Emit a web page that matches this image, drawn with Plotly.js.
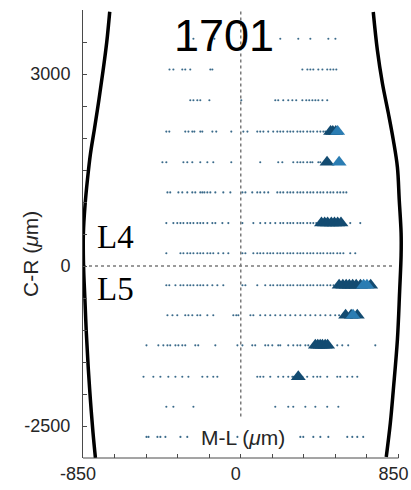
<!DOCTYPE html>
<html>
<head>
<meta charset="utf-8">
<script src="https://cdn.plot.ly/plotly-3.0.1.min.js"></script>
<style>html,body{margin:0;padding:0;background:#fff;}#chart{width:411px;height:490px;}</style>
</head>
<body>
<div id="chart"></div>
<script>
// Row positions (C-R, um)
const rowY = [3550, 3070, 2590, 2100, 1620, 1150, 670, 200, -300, -770, -1240, -1730, -2200, -2670];

// Dot M-L positions per row (um)
const row1X = [-255, -142, 213, 310, 375, 472, 510];
const row2X = [-384, -363, -315, -299, -272, -164, -153, 332, 359, 375, 391, 418, 440, 466, 483, 499, 515];
const row3X = [-272, -255, -234, -218, -169, 3, 186, 202, 229, 256, 278, 299, 332, 353, 369, 386, 402, 418, 440, 466];
const row4X = [-401, -385, -299, -282, -261, -250, -218, -207, -153, -132, -51, 14, 36, 89, 105, 122, 148, 175, 197, 213, 229, 251, 267, 283, 305, 321, 337, 358, 375, 391, 412, 429, 445, 456];
const row5X = [-422, -401, -309, -288, -261, -218, -180, -148, -51, 105, 202, 224, 283, 305, 321, 337, 358, 375, 386, 418, 429];
const row6X = [-395, -380, -336, -315, -288, -261, -245, -218, -207, -196, -180, -164, -137, -94, -56, 9, 25, 62, 89, 105, 127, 148, 197, 213, 229, 251, 267, 283, 305, 321, 337, 358, 375, 391, 412, 429, 445, 466, 483, 499, 520, 536, 553, 569];
const row7X = [-401, -363, -342, -325, -309, -288, -272, -255, -234, -218, -202, -180, -153, -137, -99, -67, 9, 68, 105, 132, 159, 186, 213, 229, 251, 267, 283, 305, 321, 337, 358, 375, 391, 407, 590, 644];
const row8X = [-401, -325, -309, -288, -272, -255, -234, -218, -202, -180, -164, -148, -121, -94, -67, 9, 25, 68, 89, 105, 122, 143, 159, 175, 197, 213, 229, 251, 267, 283, 305, 321, 337, 358, 375, 391, 412, 429, 445, 466, 483, 499, 520, 536, 553, 590, 617];
const row9X = [-401, -385, -352, -325, -309, -288, -272, -255, -234, -218, -202, -180, -153, -126, -94, 9, 25, 89, 132, 159, 175, 197, 213, 229, 251, 267, 283, 305, 321, 337, 358, 375, 391, 412, 429, 445, 466, 483, 500, 515];
const row10X = [-395, -368, -342, -299, -282, -261, -234, -218, -180, -148, -40, -24, -13, 52, 68, 105, 132, 159, 186, 213, 240, 267, 294, 321, 348, 375, 402, 429, 456, 483, 509, 530];
const row11X = [-508, -444, -417, -395, -380, -352, -336, -315, -299, -245, -229, -137, -18, 9, 62, 78, 132, 148, 170, 202, 213, 256, 283, 305, 321, 348, 364, 520, 547, 579, 725];
const row12X = [-524, -471, -433, -390, -352, -315, -282, -207, -180, -148, -126, 89, 105, 122, 159, 202, 229, 256, 278, 283, 294, 332, 358, 391, 412, 429, 466, 520, 536, 574, 601, 628];
const row13X = [-401, -363, -255, 186, 256, 283, 348, 402, 466, 526];
const row14X = [-508, -497, -449, -433, -406, -325, -288, -18, 321, 337, 391, 429, 472, 574, 601, 628, 660];
const dotRows = [row1X, row2X, row3X, row4X, row5X, row6X, row7X, row8X, row9X, row10X, row11X, row12X, row13X, row14X];

// Triangles (dark) per row index, and light ones
const triDarkRow = [3, 3, 3, 4, 6, 6, 6, 6, 6, 6, 6, 8, 8, 8, 8, 8, 8, 8, 8, 9, 9, 9, 10, 10, 10, 10, 10, 10, 11];
const triDarkX = [484, 496, 512, 465, 435, 452, 468, 488, 505, 522, 540, 530, 550, 568, 585, 603, 622, 645, 700, 565, 595, 628, 402, 415, 428, 440, 455, 468, 310];
const triLightRow = [3, 4, 8, 8, 9];
const triLightX = [522, 530, 662, 680, 605];

// Boundary curves (M-L, C-R in um)
const leftX = [-706, -722, -742, -764, -788, -810, -826, -839, -848, -847, -840, -832, -822, -810, -796, -783];
const leftY = [3973, 3500, 3050, 2600, 2150, 1750, 1350, 950, 500, 0, -500, -1050, -1580, -2094, -2609, -3000];
const rightX = [714, 736, 763, 795, 822, 844, 854, 864, 864, 856, 844, 822, 806, 784];
const rightY = [3969, 3375, 2859, 2391, 1969, 1547, 1031, 516, 172, -400, -1156, -1938, -2453, -2984];

const xTickVals = [-850, -680, -510, -340, -170, 0, 170, 340, 510, 680, 850];
const xTickText = ['-850', '', '', '', '', '0', '', '', '', '', '850'];
const yTickVals = [-3000, -2500, -2000, -1500, -1000, -500, 0, 500, 1000, 1500, 2000, 2500, 3000, 3500, 4000];
const yTickText = ['', '-2500', '', '', '', '', '0', '', '', '', '', '', '3000', '', ''];

const dotX = [], dotY = [];
dotRows.forEach((r, i) => r.forEach(v => { dotX.push(v); dotY.push(rowY[i]); }));

const traces = [
  {x: leftX, y: leftY, mode: 'lines', line: {color: '#000', width: 3.5, shape: 'spline', smoothing: 1}, hoverinfo: 'skip'},
  {x: rightX, y: rightY, mode: 'lines', line: {color: '#000', width: 3.5, shape: 'spline', smoothing: 1}, hoverinfo: 'skip'},
  {x: dotX, y: dotY, mode: 'markers', marker: {size: 2.1, color: '#3a6a8a'}, cliponaxis: false},
  {x: triDarkX, y: triDarkRow.map(i => rowY[i]), mode: 'markers',
   marker: {symbol: 'triangle-up', size: 13, color: '#134b71', line: {width: 0}}},
  {x: triLightX, y: triLightRow.map(i => rowY[i]), mode: 'markers',
   marker: {symbol: 'triangle-up', size: 13, color: '#2b7db3', line: {width: 0}}}
];

const axisColor = '#4a4a4a';
const layout = {
  width: 411, height: 490,
  margin: {l: 83, r: 6, t: 10, b: 32},
  showlegend: false,
  paper_bgcolor: '#fff', plot_bgcolor: '#fff',
  font: {family: 'Liberation Sans, Arial, sans-serif', color: '#262626'},
  xaxis: {range: [-850, 885], showgrid: false, zeroline: false, showline: false,
    tickmode: 'array', tickvals: xTickVals, ticktext: xTickText,
    ticks: 'inside', ticklen: 4, tickcolor: axisColor, tickwidth: 1,
    ticklabelshift: -5, ticklabeloverflow: 'allow', ticklabelstandoff: 3,
    tickfont: {size: 18, color: '#262626'}, fixedrange: true},
  yaxis: {range: [-3000, 4000], showgrid: false, zeroline: false, showline: true,
    linecolor: axisColor, linewidth: 1,
    tickmode: 'array', tickvals: yTickVals, ticktext: yTickText,
    ticks: 'inside', ticklen: 4, tickcolor: axisColor, tickwidth: 1,
    ticklabelstandoff: 8,
    tickfont: {size: 18, color: '#262626'}, fixedrange: true},
  shapes: [
    {type: 'line', xref: 'x', yref: 'y', x0: 0, x1: 0, y0: -2350, y1: 4000, layer: 'below',
     line: {color: '#7a7a7a', width: 1.5, dash: '3px,3px'}},
    {type: 'line', xref: 'x', yref: 'y', x0: -850, x1: 825, y0: 0, y1: 0, layer: 'below',
     line: {color: '#7a7a7a', width: 1.5, dash: '3px,3px'}},
    {type: 'line', xref: 'paper', yref: 'paper', x0: 0, x1: 1700 / 1735, y0: 0, y1: 0,
     line: {color: axisColor, width: 1}}
  ],
  annotations: [
    {text: '1701', xref: 'x', yref: 'y', x: -92, y: 3597, showarrow: false,
     font: {size: 45, color: '#000', family: 'Liberation Sans, Arial, sans-serif'}, xanchor: 'center', yanchor: 'middle'},
    {text: 'M-L (<i>μ</i>m)', xref: 'x', yref: 'y', x: 11, y: -2687, showarrow: false,
     font: {size: 21, color: '#262626'}, xanchor: 'center', yanchor: 'middle'},
    {text: 'C-R (<i>μ</i>m)', xref: 'paper', yref: 'paper', x: (30 - 83) / 322, y: (458 - 254) / 448,
     showarrow: false, textangle: -90, font: {size: 21, color: '#262626'}, xanchor: 'center', yanchor: 'middle'},
    {text: 'L4', xref: 'x', yref: 'y', x: -676, y: 453, showarrow: false,
     font: {size: 33, color: '#000', family: 'Liberation Serif, Times New Roman, serif'}, xanchor: 'center', yanchor: 'middle'},
    {text: 'L5', xref: 'x', yref: 'y', x: -676, y: -359, showarrow: false,
     font: {size: 33, color: '#000', family: 'Liberation Serif, Times New Roman, serif'}, xanchor: 'center', yanchor: 'middle'}
  ]
};

Plotly.newPlot('chart', traces, layout, {displayModeBar: false, staticPlot: true});
</script>
</body>
</html>
